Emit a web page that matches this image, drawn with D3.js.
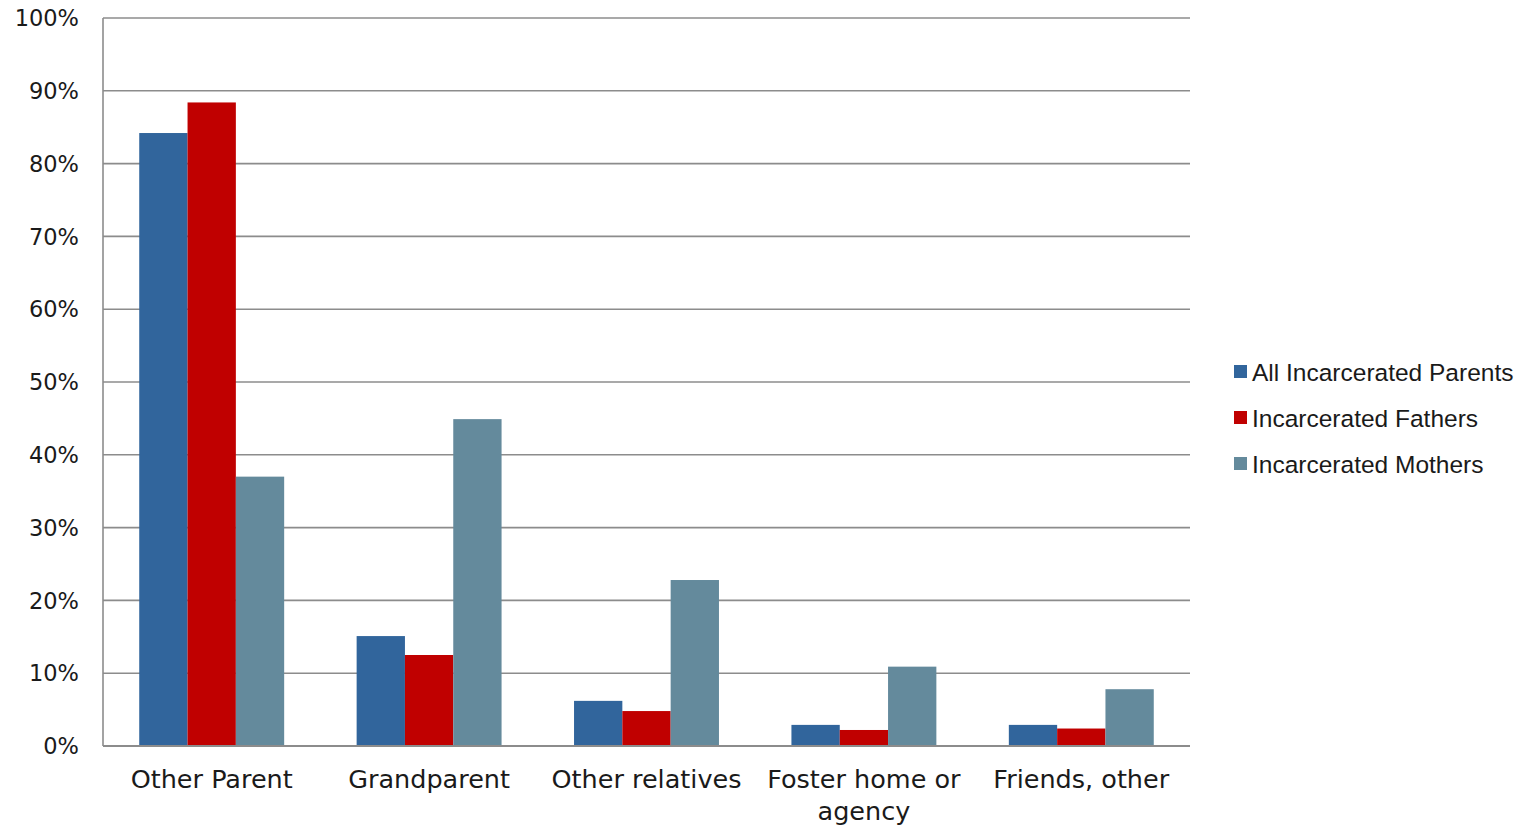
<!DOCTYPE html>
<html>
<head>
<meta charset="utf-8">
<script src="https://cdn.jsdelivr.net/npm/d3@7"></script>
<style>
  body { margin: 0; background: #fff; }
  svg text { fill: #1a1a1a; }
</style>
</head>
<body>
<script>
// data
var categories = ["Other Parent", "Grandparent", "Other relatives", "Foster home or agency", "Friends, other"];
var seriesNames = ["All Incarcerated Parents", "Incarcerated Fathers", "Incarcerated Mothers"];
var allParents = [84.2, 15.1, 6.2, 2.9, 2.9];
var fathers = [88.4, 12.5, 4.8, 2.2, 2.4];
var mothers = [37.0, 44.9, 22.8, 10.9, 7.8];
var yTicks = [0, 10, 20, 30, 40, 50, 60, 70, 80, 90, 100];
var colors = ["#31659c", "#c00000", "#648a9c"];

var series = [allParents, fathers, mothers];

var width = 1532, height = 829;
// note: "top" is taken by window.top, so use plot* names
var plotLeft = 103, plotRight = 1190, plotTop = 18, plotBottom = 746;

var svg = d3.select("body").append("svg").attr("width", width).attr("height", height);

var x = d3.scaleBand().domain(categories).range([plotLeft, plotRight]).padding(0);
var xInner = d3.scaleBand().domain(seriesNames).range([x.bandwidth() / 6, x.bandwidth() * 5 / 6]).padding(0);
var y = d3.scaleLinear().domain([0, 100]).range([plotBottom, plotTop]);

// gridlines
svg.append("g").selectAll("line").data(yTicks).enter().append("line")
    .attr("x1", plotLeft).attr("x2", plotRight)
    .attr("y1", function (d) { return y(d); })
    .attr("y2", function (d) { return y(d); })
    .attr("stroke", "#8c8c8c").attr("stroke-width", 1.6);

// left axis line
svg.append("line").attr("x1", plotLeft).attr("x2", plotLeft).attr("y1", plotTop).attr("y2", plotBottom)
    .attr("stroke", "#8c8c8c").attr("stroke-width", 1.6);

// y labels
svg.append("g").selectAll("text").data(yTicks).enter().append("text")
    .attr("x", 79).attr("y", function (d) { return y(d); })
    .attr("dy", "0.36em")
    .attr("text-anchor", "end")
    .style("font-family", "'DejaVu Sans', sans-serif").style("font-size", "22.5px")
    .text(function (d) { return d + "%"; });

// bars
series.forEach(function (vals, s) {
    svg.append("g").selectAll("rect").data(vals).enter().append("rect")
        .attr("x", function (d, i) { return x(categories[i]) + xInner(seriesNames[s]); })
        .attr("y", function (d) { return y(d); })
        .attr("width", xInner.bandwidth())
        .attr("height", function (d) { return plotBottom - y(d); })
        .attr("fill", colors[s]);
});

// bottom axis line over bars
svg.append("line").attr("x1", plotLeft).attr("x2", plotRight).attr("y1", plotBottom).attr("y2", plotBottom)
    .attr("stroke", "#8c8c8c").attr("stroke-width", 2);

// category labels
var catLines = { "Foster home or agency": ["Foster home or", "agency"] };
categories.forEach(function (c) {
    var lines = catLines[c] || [c];
    var t = svg.append("text")
        .attr("x", x(c) + x.bandwidth() / 2).attr("y", 788)
        .attr("text-anchor", "middle")
        .style("font-family", "'DejaVu Sans', sans-serif").style("font-size", "25.5px");
    lines.forEach(function (l, i) {
        t.append("tspan").attr("x", x(c) + x.bandwidth() / 2).attr("dy", i == 0 ? 0 : 32).text(l);
    });
});

// legend
var legend = svg.append("g").selectAll("g").data(seriesNames).enter().append("g")
    .attr("transform", function (d, i) { return "translate(1234," + (372 + i * 46) + ")"; });
legend.append("rect").attr("x", 0).attr("y", -7).attr("width", 13).attr("height", 13)
    .attr("fill", function (d, i) { return colors[i]; });
legend.append("text").attr("x", 18).attr("y", 0).attr("dy", "0.35em")
    .style("font-family", "'Liberation Sans', sans-serif").style("font-size", "24.5px")
    .text(function (d) { return d; });
</script>
</body>
</html>
